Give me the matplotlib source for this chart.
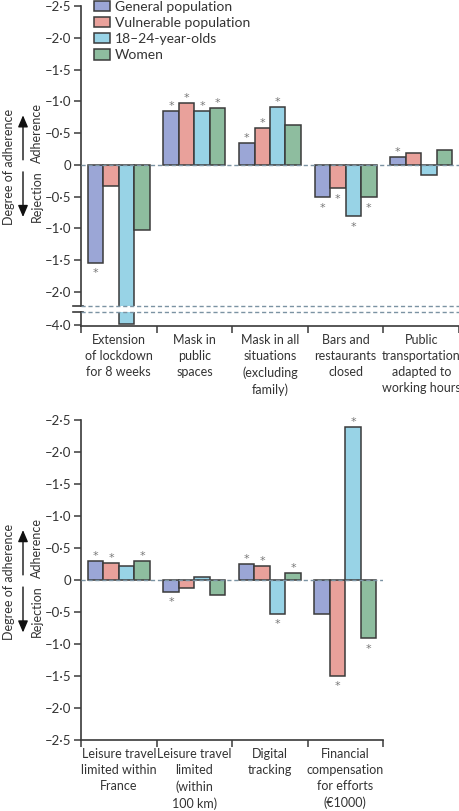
import matplotlib.pyplot as plt
import numpy as np

plt.rcParams['font.family'] = ['Lato', 'DejaVu Sans']

series = ["General population", "Vulnerable population", "18–24-year-olds", "Women"]
colors = ['#9ba6d6', '#e9a19b', '#98d3e6', '#8ebd9f']

# top panel
cats_top = ["Extension\nof lockdown\nfor 8 weeks", "Mask in\npublic\nspaces",
            "Mask in all\nsituations\n(excluding\nfamily)", "Bars and\nrestaurants\nclosed",
            "Public\ntransportation\nadapted to\nworking hours"]
general_top = [-1.54, 0.85, 0.34, -0.51, 0.12]
vulnerable_top = [-0.33, 0.98, 0.58, -0.37, 0.18]
young_top = [-3.98, 0.85, 0.91, -0.81, -0.16]
women_top = [-1.03, 0.90, 0.63, -0.51, 0.24]
stars_top = [[1, 1, 1, 1, 1], [0, 1, 1, 1, 0], [0, 1, 1, 1, 0], [0, 1, 0, 1, 0]]

# bottom panel
cats_bot = ["Leisure travel\nlimited within\nFrance", "Leisure travel\nlimited\n(within\n100 km)",
            "Digital\ntracking", "Financial\ncompensation\nfor efforts\n(€1000)"]
general_bot = [0.29, -0.18, 0.25, -0.53]
vulnerable_bot = [0.26, -0.12, 0.22, -1.50]
young_bot = [0.22, 0.05, -0.53, 2.39]
women_bot = [0.29, -0.24, 0.11, -0.91]
stars_bot = [[1, 1, 1, 0], [1, 0, 1, 1], [0, 0, 1, 1], [1, 0, 1, 1]]

W, H = 460, 811
fig = plt.figure(figsize=(W / 100, H / 100), dpi=100)


def frac(l, t, r, b):
    return [l / W, 1 - b / H, (r - l) / W, (b - t) / H]


ax1 = fig.add_axes(frac(81, 6, 459, 306))
ax2 = fig.add_axes(frac(81, 312, 459, 326), sharex=ax1)
ax3 = fig.add_axes(frac(81, 420, 383, 740))

ax1.set_ylim(-2.22, 2.5)
ax2.set_ylim(-4.016, -3.796)
ax3.set_ylim(-2.5, 2.5)

edge = '#3a3a3a'
txt = '#333333'
w = 0.205


def fmt(v):
    if abs(v) < 1e-9:
        return '0'
    return '–' + f'{abs(v):.1f}'.replace('.', '·')


def bars(ax, data, stars, show_stars=True):
    x = np.arange(len(data[0]))
    for k, vals in enumerate(data):
        xs = x + (k - 1.5) * w
        ax.bar(xs, vals, width=w, color=colors[k], edgecolor=edge, linewidth=1.1,
               label=series[k], zorder=2)
        if not show_stars:
            continue
        lo = ax.get_ylim()[0]
        for xi, v, s in zip(xs, vals, stars[k]):
            if s and v > lo:
                ax.annotate('*', (xi, v), xytext=(0, 0 if v > 0 else -11),
                            textcoords='offset points', ha='center', va='bottom',
                            fontsize=8, color='#777777', family='DejaVu Sans')


def style(ax, n, ticks, xlabels=None):
    for s in ['top', 'right']:
        ax.spines[s].set_visible(False)
    for s in ['left', 'bottom']:
        ax.spines[s].set_color(edge)
        ax.spines[s].set_linewidth(1.2)
    ax.set_xlim(-0.5, n - 0.5)
    ax.set_yticks(ticks)
    ax.set_yticklabels([fmt(t) for t in ticks])
    ax.tick_params(axis='y', length=5, width=1.1, color=edge, labelsize=9.5, pad=2,
                   labelcolor=txt)
    if xlabels is not None:
        ax.set_xticks(np.arange(n))
        ax.set_xticklabels(xlabels, fontsize=9, color=txt, linespacing=1.4, va='top')
        ax.set_xticks(np.arange(-0.5, n), minor=True)
        ax.tick_params(axis='x', which='major', length=0, pad=6)
        ax.tick_params(axis='x', which='minor', length=5, width=1.1, color=edge)


data_top = [general_top, vulnerable_top, young_top, women_top]
data_bot = [general_bot, vulnerable_bot, young_bot, women_bot]

bars(ax1, data_top, stars_top)
bars(ax2, data_top, stars_top, show_stars=False)
bars(ax3, data_bot, stars_bot)

style(ax1, 5, [2.5, 2.0, 1.5, 1.0, 0.5, 0, -0.5, -1.0, -1.5, -2.0])
style(ax2, 5, [-4.0], cats_top)
style(ax3, 4, [2.5, 2.0, 1.5, 1.0, 0.5, 0, -0.5, -1.0, -1.5, -2.0, -2.5], cats_bot)

ax1.spines['bottom'].set_visible(False)
ax1.tick_params(axis='x', which='both', bottom=False, labelbottom=False)
ax2.spines['top'].set_visible(False)

dash = dict(color='#7b93a3', ls=(0, (3, 2)), lw=1.0, zorder=3)
for ax in [ax1, ax3]:
    ax.axhline(0, **dash)
ax1.axhline(ax1.get_ylim()[0], clip_on=False, **dash)
ax2.axhline(ax2.get_ylim()[1], clip_on=False, **dash)
# break marks on spine
ax1.plot([-0.022, 0.004], [0, 0], transform=ax1.transAxes, color=edge, lw=1.2, clip_on=False)
ax2.plot([-0.022, 0.004], [1, 1], transform=ax2.transAxes, color=edge, lw=1.2, clip_on=False)

ax1.legend(loc='upper left', bbox_to_anchor=(0.034, 1.017), frameon=False, fontsize=10,
           handlelength=1.15, handleheight=0.75, handletextpad=0.35, labelspacing=0.3,
           borderpad=0, borderaxespad=0, labelcolor=txt)

# y label with arrows
for ax in [ax1, ax3]:
    yc = ('figure pixels', 'data')
    ax.annotate('Degree of adherence', (9, -0.03), xycoords=yc, rotation=90,
                ha='center', va='center', fontsize=9, color=txt)
    ax.annotate('Adherence', (37, 0.5), xycoords=yc, rotation=90,
                ha='center', va='center', fontsize=9, color=txt)
    ax.annotate('Rejection', (37, -0.49), xycoords=yc, rotation=90,
                ha='center', va='center', fontsize=9, color=txt)
    arrow = dict(arrowstyle='-|>,head_length=0.7,head_width=0.3', color='#111111', lw=1.0,
                 shrinkA=0, shrinkB=0)
    ax.annotate('', xy=(23, 0.78), xytext=(23, 0.08), xycoords=yc, textcoords=yc,
                arrowprops=arrow)
    ax.annotate('', xy=(23, -0.82), xytext=(23, -0.11), xycoords=yc, textcoords=yc,
                arrowprops=arrow)

fig.savefig('out.png', dpi=100)
